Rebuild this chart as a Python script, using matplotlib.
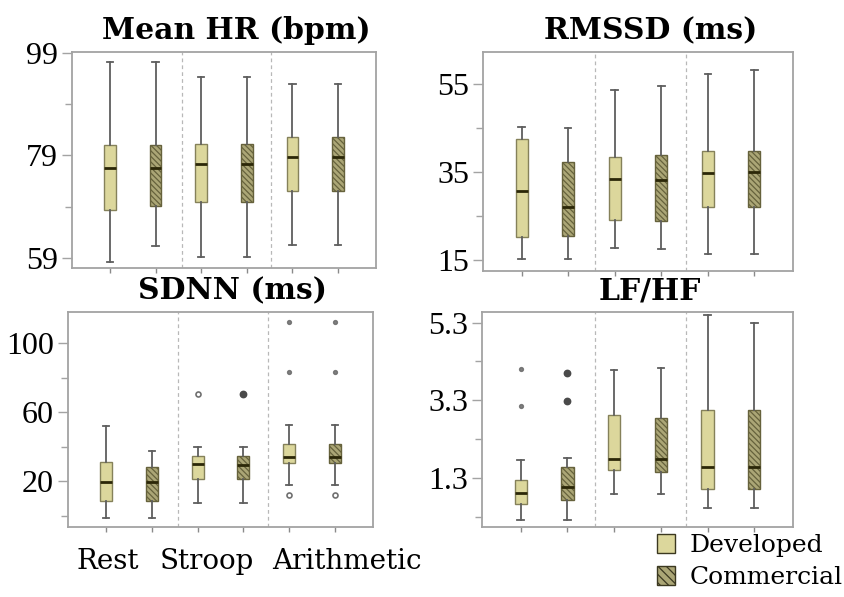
import matplotlib
matplotlib.use("Agg")
import matplotlib.pyplot as plt
from matplotlib.patches import Patch
from matplotlib.ticker import FixedLocator

plt.rcParams["font.family"] = ["DejaVu Serif"]
plt.rcParams["hatch.linewidth"] = 0.9

# ---- data -------------------------------------------------------------
# Box order: Developed/Commercial for Rest, Stroop, Arithmetic
groups = ["Rest", "Stroop", "Arithmetic"]
series = ["Developed", "Commercial"]

hr_whislo = [58.1, 61.3, 59.2, 59.2, 61.5, 61.5]
hr_q1 = [68.3, 69.1, 69.8, 69.8, 72.1, 72.1]
hr_med = [76.6, 76.6, 77.4, 77.4, 78.7, 78.7]
hr_q3 = [81.0, 81.0, 81.2, 81.2, 82.5, 82.5]
hr_whishi = [97.3, 97.3, 94.3, 94.3, 92.9, 92.9]
hr_fliers = [[], [], [], [], [], []]

rmssd_whislo = [15.2, 15.2, 17.7, 17.4, 16.3, 16.3]
rmssd_q1 = [20.2, 20.5, 24.1, 23.9, 27.1, 27.1]
rmssd_med = [30.8, 27.0, 33.4, 33.3, 34.8, 35.0]
rmssd_q3 = [42.5, 37.3, 38.5, 38.8, 39.9, 39.9]
rmssd_whishi = [45.2, 45.0, 53.6, 54.6, 57.3, 58.3]
rmssd_fliers = [[], [], [], [], [], []]

sdnn_whislo = [-1.5, -1.5, 7.2, 7.2, 17.9, 17.9]
sdnn_q1 = [8.4, 8.4, 21.2, 21.2, 30.5, 30.5]
sdnn_med = [19.6, 19.4, 29.9, 29.5, 34.1, 34.1]
sdnn_q3 = [31.0, 28.5, 34.9, 34.9, 41.3, 41.3]
sdnn_whishi = [52.2, 37.4, 40.0, 40.0, 52.4, 52.4]
sdnn_fliers = [[], [], [70.8], [70.8], [112.1, 83.4, 12.2], [112.1, 83.4, 12.2]]

lfhf_whislo = [0.22, 0.22, 0.88, 0.88, 0.53, 0.51]
lfhf_q1 = [0.62, 0.73, 1.49, 1.46, 1.00, 1.00]
lfhf_med = [0.90, 1.05, 1.79, 1.79, 1.57, 1.58]
lfhf_q3 = [1.24, 1.57, 2.91, 2.85, 3.06, 3.06]
lfhf_whishi = [1.75, 1.81, 4.09, 4.12, 5.49, 5.28]
lfhf_fliers = [[4.11, 3.15], [4.00, 3.27], [], [], [], []]

# ---- styling ----------------------------------------------------------
dev_face = "#dcd79c"
dev_edge = "#85815a"
com_face = "#aba676"
com_edge = "#66623c"
whisker_col = "#5e5e5e"
median_col = "#2b2708"
frame_col = "#a3a3a3"
tick_font = ["Liberation Serif", "DejaVu Serif"]

# marker kinds for the outliers, parallel to the flier lists
sdnn_flier_kind = [[], [], ["ring"], ["dot"], ["star", "star", "ring"], ["star", "star", "ring"]]
lfhf_flier_kind = [["star", "star"], ["dot", "dot"], [], [], [], []]
no_kind = [[], [], [], [], [], []]

panels = [
    dict(title="Mean HR (bpm)", lo=hr_whislo, q1=hr_q1, med=hr_med, q3=hr_q3, hi=hr_whishi,
         fl=hr_fliers, kind=no_kind, ylim=(57.0, 99.2), major=[59, 79, 99], minor=[69, 89],
         fmt="{:g}", rect=[72, 52, 376, 268]),
    dict(title="RMSSD (ms)", lo=rmssd_whislo, q1=rmssd_q1, med=rmssd_med, q3=rmssd_q3, hi=rmssd_whishi,
         fl=rmssd_fliers, kind=no_kind, ylim=(12.5, 62.3), major=[15, 35, 55], minor=[25, 45],
         fmt="{:g}", rect=[483, 52, 793, 271]),
    dict(title="SDNN (ms)", lo=sdnn_whislo, q1=sdnn_q1, med=sdnn_med, q3=sdnn_q3, hi=sdnn_whishi,
         fl=sdnn_fliers, kind=sdnn_flier_kind, ylim=(-6.5, 118.0), major=[20, 60, 100], minor=[0, 40, 80],
         fmt="{:g}", rect=[68, 312, 373, 527]),
    dict(title="LF/HF", lo=lfhf_whislo, q1=lfhf_q1, med=lfhf_med, q3=lfhf_q3, hi=lfhf_whishi,
         fl=lfhf_fliers, kind=lfhf_flier_kind, ylim=(0.03, 5.575), major=[1.3, 3.3, 5.3], minor=[0.3, 2.3, 4.3],
         fmt="{:.1f}", rect=[482, 312, 793, 527]),
]

W, H = 844, 597
fig = plt.figure(figsize=(W / 100, H / 100), dpi=100)

positions = [1, 2, 3, 4, 5, 6]
separators = [2.58, 4.54]

for p in panels:
    x0, y0, x1, y1 = p["rect"]
    ax = fig.add_axes([x0 / W, 1 - y1 / H, (x1 - x0) / W, (y1 - y0) / H])
    stats = []
    for i in range(6):
        stats.append(dict(whislo=p["lo"][i], q1=p["q1"][i], med=p["med"][i],
                          q3=p["q3"][i], whishi=p["hi"][i], fliers=[]))
    bp = ax.bxp(stats, positions=positions, widths=0.26, patch_artist=True,
                showfliers=False,
                whiskerprops=dict(color=whisker_col, lw=1.3),
                capprops=dict(color=whisker_col, lw=1.3),
                medianprops=dict(color=median_col, lw=2.0),
                boxprops=dict(lw=1.0), capwidths=0.14)
    for i, box in enumerate(bp["boxes"]):
        if i % 2 == 0:
            box.set_facecolor(dev_face)
            box.set_edgecolor(dev_edge)
        else:
            box.set_facecolor(com_face)
            box.set_edgecolor(com_edge)
            box.set_hatch("\\\\\\\\\\\\")
    # outliers
    for i in range(6):
        for v, k in zip(p["fl"][i], p["kind"][i]):
            if k == "ring":
                ax.plot(positions[i], v, "o", ms=3.6, mfc="white", mec="#707070", mew=1.2)
            elif k == "dot":
                ax.plot(positions[i], v, "o", ms=4.6, mfc="#4a4a4a", mec="#4a4a4a")
            else:
                ax.plot(positions[i], v, "o", ms=2.8, mfc="#6a6a6a", mec="#6a6a6a", alpha=0.85)
    for s in separators:
        ax.axvline(s, color="#b8b8b8", lw=0.9, ls=(0, (3, 2.5)))
    ax.set_xlim(0.17, 6.83)
    ax.set_ylim(*p["ylim"])
    ax.yaxis.set_major_locator(FixedLocator(p["major"]))
    ax.yaxis.set_minor_locator(FixedLocator(p["minor"]))
    ax.set_yticklabels([p["fmt"].format(v) for v in p["major"]], family=tick_font, fontsize=23)
    ax.set_xticks(positions)
    ax.set_xticklabels([])
    ax.tick_params(axis="y", which="major", length=7, width=1.0, color=frame_col, pad=3)
    ax.tick_params(axis="y", which="minor", length=5, width=1.0, color=frame_col)
    ax.tick_params(axis="x", length=3.5, width=1.0, color="#8a8a8a")
    for sp in ax.spines.values():
        sp.set_color(frame_col)
        sp.set_linewidth(1.3)
    ax.text(0.54, 1.06, p["title"], transform=ax.transAxes, ha="center", va="baseline",
            fontsize=21.5, fontweight="bold")

# group labels below the lower-left panel
label_x = [77, 160, 272]
for name, lx in zip(groups, label_x):
    fig.text(lx / W, 1 - 569 / H, name, ha="left", va="baseline", fontsize=20)

handles = [Patch(facecolor=dev_face, edgecolor="#3b3820", lw=1.0),
           Patch(facecolor=com_face, edgecolor="#3b3820", lw=1.0, hatch="\\\\\\\\")]
fig.legend(handles, series, loc="lower right", bbox_to_anchor=(843 / W, 8 / H),
           frameon=False, fontsize=18, handlelength=0.72, handleheight=0.8,
           handletextpad=0.6, labelspacing=0.36, borderpad=0.0, borderaxespad=0.0)

fig.savefig("out.png", dpi=100)
